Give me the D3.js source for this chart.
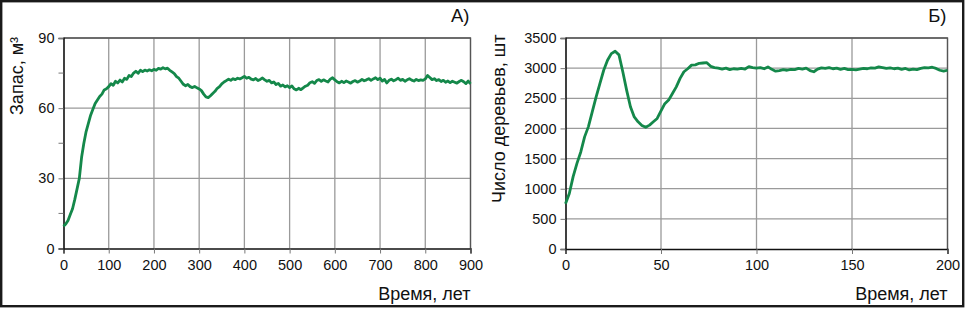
<!DOCTYPE html>
<html><head><meta charset="utf-8">
<script src="https://cdn.jsdelivr.net/npm/d3@7"></script>
<style>body{margin:0;background:#fff}svg{display:block;font-family:"Liberation Sans",Arial,sans-serif}</style>
</head><body><svg id="c" width="965" height="309"></svg>
<script>
// Panel A: stock (m3) vs time (years), step 5 years
const timeA = d3.range(0, 901, 5);
const stockA = [9.5,10.5,12,14.5,17,21,25.5,30,39,45,50,53.5,57,59.5,62,63.5,65,66,67.8,68.3,
69.2,70.5,69.8,71.5,70.8,72,71.2,72.8,72.3,74,73.5,75,75.8,74.9,76.2,75.6,76.3,75.9,76.4,76,
76.6,76.2,77,76.7,77.3,76.8,77.1,76.2,75.5,74.8,73.5,72.8,71.5,70.2,69.6,70.1,69.2,68.8,69.3,68.7,
68.2,67.5,66,64.8,64.5,65.3,66.3,67.2,68.5,69.2,70.4,71.2,71.8,72.4,71.9,72.6,72.2,72.8,72.5,73,
73.6,72.8,73.2,72.4,72.1,72.7,71.8,72.3,72.9,72.1,71.5,71.9,70.8,71.2,70.1,70.6,69.4,69.9,69.1,69.6,
68.8,69.5,68.3,67.8,68.5,67.9,68.7,69.4,69.8,70.9,71.3,70.6,71.8,72.2,71.5,72.1,71.6,71.2,72.4,73,
72.1,71.3,70.8,71.5,70.9,71.6,71.2,70.7,71.4,71.8,71.1,71.6,72.3,71.7,72.1,72.6,71.9,72.5,73,72.2,
72.8,71.6,72.3,70.8,71.9,72.4,71.7,72.2,72.8,71.9,72.3,71.5,72.1,72.6,72,71.6,72.3,71.8,72.1,71.9,
72.5,74,73.1,72.2,72.6,71.8,72.2,71.4,71.9,71.1,71.6,70.9,71.5,71.1,70.7,71.4,71.9,71.3,70.5,71.6,70.4];
const xTicksA = [0,100,200,300,400,500,600,700,800,900];
const yTicksA = [0,30,60,90];
const yMinorA = [15,45,75];

// Panel B: number of trees vs time (years), step 2 years
const timeB = d3.range(0, 201, 2);
const treesB = [750,920,1200,1420,1610,1860,2030,2275,2520,2745,2965,3130,3240,3280,3220,2940,2635,2360,2190,2110,
2050,2020,2055,2110,2165,2290,2410,2470,2580,2690,2830,2940,2990,3050,3055,3080,3085,3090,3030,3010,
3000,2985,3000,2975,2990,2985,2995,2985,3025,3010,3000,3010,2990,3020,2980,2950,2960,2975,2965,2980,
2975,2995,2985,3000,2960,2940,2985,3005,2995,3010,2990,3000,2980,2995,2975,2980,2970,2985,2995,2990,
3005,3000,3020,3010,2995,3005,2990,3000,2980,2995,2970,2985,2975,2995,3010,3005,3015,2995,2965,2950,2965];
const xTicksB = [0,50,100,150,200];
const yTicksB = [0,500,1000,1500,2000,2500,3000,3500];

const svg = d3.select("#c");
const green = "#14884a";

svg.append("rect").attr("x",1.2).attr("y",1.2).attr("width",962).attr("height",305)
  .attr("fill","none").attr("stroke","#1a1a1a").attr("stroke-width",2.4);

function panel(o){
  const g = svg.append("g");
  const x = d3.scaleLinear().domain(o.xd).range([o.x0,o.x1]);
  const y = d3.scaleLinear().domain(o.yd).range([o.y0,o.y1]);
  // grid
  g.selectAll(".gx").data(o.xt.filter(v=>v!==o.xd[0])).join("line")
    .attr("x1",d=>x(d)).attr("x2",d=>x(d)).attr("y1",o.y0).attr("y2",o.y1)
    .attr("stroke","#9a9a9a").attr("stroke-width",1.3);
  g.selectAll(".gy").data(o.yt.filter(v=>v!==o.yd[0])).join("line")
    .attr("x1",o.x0).attr("x2",o.x1).attr("y1",d=>y(d)).attr("y2",d=>y(d))
    .attr("stroke","#9a9a9a").attr("stroke-width",1.3);
  // frame top/right
  g.append("path").attr("d",`M${o.x0},${o.y1}H${o.x1}V${o.y0}`).attr("fill","none")
    .attr("stroke","#555").attr("stroke-width",1.3);
  // axes
  const ax = d3.axisBottom(x).tickValues(o.xt).tickSize(5).tickPadding(6).tickFormat(d3.format("d"));
  const ay = d3.axisLeft(y).tickValues(o.yt).tickSize(5).tickPadding(4).tickFormat(d3.format("d"));
  const gx = g.append("g").attr("transform",`translate(0,${o.y0})`).call(ax);
  const gy = g.append("g").attr("transform",`translate(${o.x0},0)`).call(ay);
  if(o.ym){
    gy.selectAll(".minor").data(o.ym).join("line").attr("x1",-5).attr("x2",0)
      .attr("y1",d=>y(d)).attr("y2",d=>y(d)).attr("stroke","#777").attr("stroke-width",1);
  }
  [gx,gy].forEach(a=>{
    a.select(".domain").attr("stroke","#111").attr("stroke-width",1.6);
    a.selectAll(".tick line").attr("stroke","#777").attr("stroke-width",1);
    a.selectAll("text").attr("font-size",14.5).attr("fill","#111")
      .attr("font-family",'"Liberation Sans",Arial,sans-serif');
  });
  // line
  const line = d3.line().x((d,i)=>x(o.tx[i])).y(d=>y(d));
  g.append("path").datum(o.vals).attr("d",line).attr("fill","none")
    .attr("stroke",green).attr("stroke-width",2.8).attr("stroke-linejoin","round");
  // titles
  g.append("text").attr("x",o.x1).attr("y",300).attr("text-anchor","end")
    .attr("font-size",18).attr("fill","#111").text("Время, лет");
  g.append("text").attr("transform",`translate(${o.ylx},${o.yly}) rotate(-90)`)
    .attr("text-anchor","start").attr("font-size",18).attr("fill","#111").text(o.ytitle);
  g.append("text").attr("x",o.x1-1).attr("y",22).attr("text-anchor","end")
    .attr("font-size",18.5).attr("fill","#111").text(o.tag);
}

panel({xd:[0,900],yd:[0,90],x0:63.5,x1:470.5,y0:248.5,y1:38,xt:xTicksA,yt:yTicksA,ym:yMinorA,
  tx:timeA,vals:stockA,ytitle:"Запас, м³",ylx:23,yly:115,tag:"А)"});
panel({xd:[0,200],yd:[0,3500],x0:565.5,x1:947.5,y0:249,y1:38,xt:xTicksB,yt:yTicksB,
  tx:timeB,vals:treesB,ytitle:"Число деревьев, шт",ylx:505,yly:203,tag:"Б)"});
</script></body></html>
